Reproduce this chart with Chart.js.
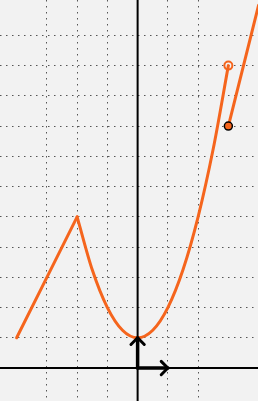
<!DOCTYPE html>
<html>
<head>
<meta charset="utf-8">
<script src="https://cdn.jsdelivr.net/npm/chart.js@4/dist/chart.umd.min.js"></script>
<style>
  html, body { margin: 0; padding: 0; background: #f2f2f2; }
  #wrap { width: 258px; height: 401px; }
</style>
</head>
<body>
<div id="wrap"><canvas id="c" width="258" height="401"></canvas></div>
<script>
// values
var leftX = [-4, -3, -2];
var leftY = [1, 3, 5];
var curveX = [-2, -1.5, -1, -0.5, 0, 0.5, 1, 1.5, 2, 2.5, 3];
var curveY = [5, 3.25, 2, 1.25, 1, 1.25, 2, 3.25, 5, 7.25, 10];
var rightX = [3, 4];
var rightY = [8, 12];
var openPt = [3, 10];
var closedPt = [3, 8];
var xRange = [-4.55, 3.98];
var yRange = [-1.09, 12.17];

var orange = '#f5651d';

function pts(xs, ys) {
  return xs.map(function (x, i) { return { x: x, y: ys[i] }; });
}

// unit arrows at the origin
var head = 0.22;
var upArrow = [{x: 0, y: 0}, {x: 0, y: 1}];
var upHead = [{x: -head, y: 1 - head}, {x: 0, y: 1}, {x: head, y: 1 - head}];
var rightArrow = [{x: 0, y: 0}, {x: 1, y: 0}];
var rightHead = [{x: 1 - head, y: head}, {x: 1, y: 0}, {x: 1 - head, y: -head}];

function lineSet(data, color, width, order) {
  return {
    data: data, borderColor: color, borderWidth: width, pointRadius: 0,
    fill: false, tension: 0, order: order, borderCapStyle: 'round', borderJoinStyle: 'round'
  };
}

var curve = lineSet(pts(curveX, curveY), orange, 3, 3);
curve.cubicInterpolationMode = 'monotone';

var datasets = [
  lineSet(upArrow, '#000', 3.5, 0),
  lineSet(upHead, '#000', 3, 0),
  lineSet(rightArrow, '#000', 3.5, 0),
  lineSet(rightHead, '#000', 3, 0),
  {
    data: [{x: closedPt[0], y: closedPt[1]}], showLine: false, order: 1,
    pointRadius: 4, pointBackgroundColor: orange, pointBorderColor: '#000', pointBorderWidth: 1.5
  },
  {
    data: [{x: openPt[0], y: openPt[1]}], showLine: false, order: 1,
    pointRadius: 4, pointBackgroundColor: 'rgba(0,0,0,0)', pointBorderColor: orange, pointBorderWidth: 2
  },
  lineSet(pts(leftX, leftY), orange, 3, 3),
  curve,
  lineSet(pts(rightX, rightY), orange, 3, 3),
  lineSet([{x: 0, y: yRange[0] - 1}, {x: 0, y: yRange[1] + 1}], '#000', 2, 5),
  lineSet([{x: xRange[0] - 1, y: 0}, {x: xRange[1] + 1, y: 0}], '#000', 2, 5)
];

function gridColor(ctx) {
  var v = ctx.tick ? ctx.tick.value : 0;
  return Math.abs(v - Math.round(v)) < 1e-6 ? '#555' : 'rgba(0,0,0,0)';
}

function axis(range) {
  return {
    type: 'linear', min: range[0], max: range[1],
    ticks: { display: false, stepSize: 1 },
    grid: { color: gridColor, lineWidth: 1, drawTicks: false, tickLength: 0 },
    border: { display: false, dash: [1.5, 4.5] }
  };
}

new Chart(document.getElementById('c'), {
  type: 'line',
  data: { datasets: datasets },
  options: {
    responsive: false,
    animation: false,
    layout: { padding: 0, autoPadding: false },
    plugins: { legend: { display: false }, tooltip: { enabled: false } },
    scales: { x: axis(xRange), y: axis(yRange) }
  }
});
</script>
</body>
</html>
